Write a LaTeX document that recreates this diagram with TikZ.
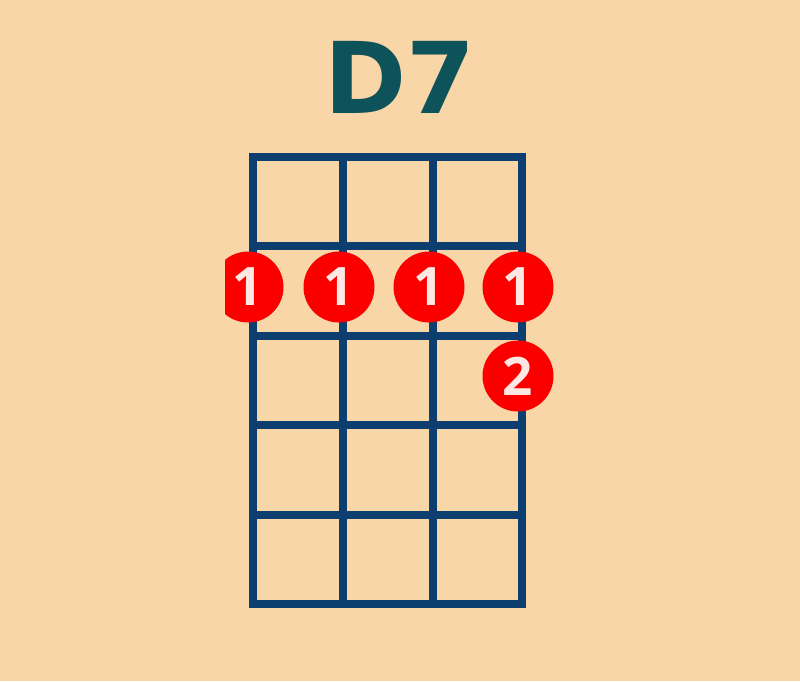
\documentclass[tikz,border=0pt]{standalone}
\usepackage{fontspec}
\newfontfamily\chordfont{DejaVu Sans}
\newfontfamily\fingerfont{Open Sans}
\definecolor{peach}{RGB}{248,214,168}
\definecolor{fretblue}{RGB}{12,62,112}
\definecolor{titleteal}{RGB}{14,82,90}
\definecolor{dotred}{RGB}{252,0,0}
\definecolor{dotlabel}{RGB}{255,232,228}

\begin{document}
\begin{tikzpicture}[
  x=1pt, y=-1pt,
  line join=miter,
  fret/.style={line width=7.5pt, draw=fretblue, line cap=rect},
  finger/.style={circle, fill=dotred, minimum size=71pt, inner sep=0pt,
    text=dotlabel, font={\fingerfont\bfseries\fontsize{53}{53}\selectfont}},
  chordname/.style={inner sep=0pt, text=titleteal,
    font={\chordfont\bfseries\fontsize{99}{99}\selectfont}}
]
  % background, fixes the page size
  \fill[peach] (0,0) rectangle (800,681);

  % chord name
  \node[chordname] (title) at (400,77) {D7};

  % strings and frets
  \draw[fret] (253,157) rectangle (522,604);
  \draw[fret] (343,157) -- (343,604);
  \draw[fret] (433,157) -- (433,604);
  \draw[fret] (253,246) -- (522,246);
  \draw[fret] (253,336) -- (522,336);
  \draw[fret] (253,425) -- (522,425);
  \draw[fret] (253,515) -- (522,515);

  % fingering dots, the first one cut off at the left
  \begin{scope}
    \clip (225,0) rectangle (800,681);
    \node[finger] (barA) at (248,287) {1};
    \node[finger] (barB) at (339,287) {1};
    \node[finger] (barC) at (429,287) {1};
    \node[finger] (barD) at (518,287) {1};
    \node[finger] (second) at (518,376) {2};
  \end{scope}
\end{tikzpicture}
\end{document}
